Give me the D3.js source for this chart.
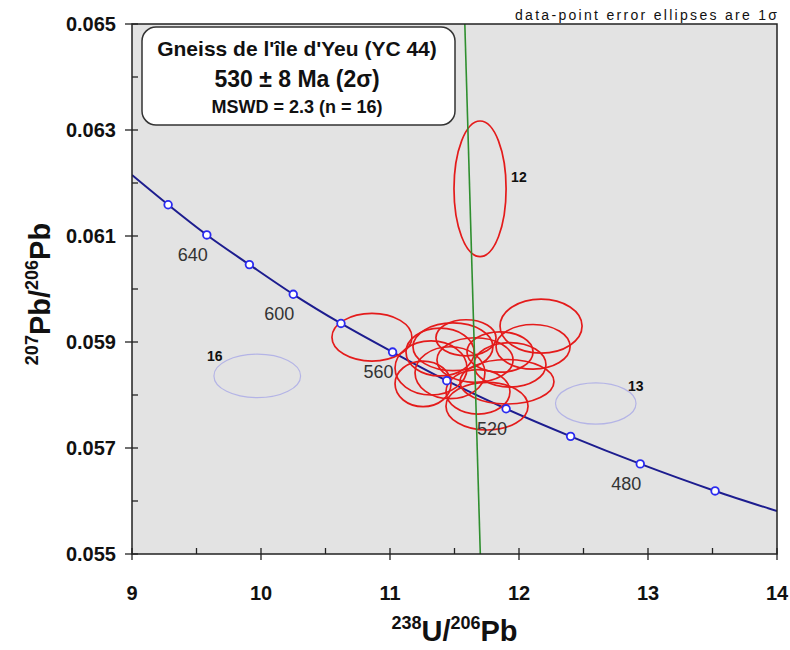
<!DOCTYPE html>
<html>
<head>
<meta charset="utf-8">
<style>
  body { margin: 0; background: #fff; }
  svg { display: block; font-family: "Liberation Sans", Arial, sans-serif; }
</style>
</head>
<body>
<svg id="chart" width="790" height="650" viewBox="0 0 790 650" xmlns="http://www.w3.org/2000/svg"></svg>
<script src="https://d3js.org/d3.v7.min.js"></script>
<script>

// axis ticks
const xTicks = [9, 10, 11, 12, 13, 14];
const xMinor = [9.5, 10.5, 11.5, 12.5, 13.5];
const yTicks = [0.055, 0.057, 0.059, 0.061, 0.063, 0.065];
const yMinor = [0.056, 0.058, 0.060, 0.062, 0.064];

// concordia curve, points
const curveX = [9.00, 9.28, 9.58, 9.91, 10.25, 10.62, 11.02, 11.44, 11.90, 12.40, 12.94, 13.52, 14.00];
const curveY = [0.06215, 0.06159, 0.06102, 0.06046, 0.05990, 0.05935, 0.05881, 0.05827, 0.05774, 0.05722, 0.05670, 0.05619, 0.05581];
const curveAges = [null, 660, 640, 620, 600, 580, 560, 540, 520, 500, 480, 460, null];
const labelledAges = [640, 600, 560, 520, 480];

// regression line (green)
const discordiaX = [11.58, 11.70];
const discordiaY = [0.065, 0.055];

// data-point ellipses (1 sigma), red = used in the age
const redX  = [10.860, 11.488, 11.388, 11.318, 11.256, 11.465, 11.752, 11.907, 11.853, 12.109, 12.171, 11.659, 11.682, 11.589, 11.930, 11.698];
const redY  = [0.05909, 0.05891, 0.05881, 0.05851, 0.05821, 0.05842, 0.05779, 0.05825, 0.05881, 0.05891, 0.05930, 0.05866, 0.05806, 0.05908, 0.05857, 0.06189];
const redSx = [0.310, 0.310, 0.264, 0.279, 0.217, 0.271, 0.318, 0.364, 0.256, 0.287, 0.318, 0.295, 0.248, 0.233, 0.279, 0.202];
const redSy = [0.00045, 0.00045, 0.00045, 0.00051, 0.00043, 0.00049, 0.00045, 0.00042, 0.00038, 0.00042, 0.00051, 0.00042, 0.00042, 0.00034, 0.00042, 0.00128];
const redNames = ["", "", "", "", "", "", "", "", "", "", "", "", "", "", "", "12"];

// rejected points (blue)
const blueX  = [9.971, 12.595];
const blueY  = [0.05836, 0.05784];
const blueSx = [0.336, 0.312];
const blueSy = [0.00041, 0.00039];
const blueNames = ["16", "13"];

const titleLines = ["Gneiss de l'île d'Yeu (YC 44)", "530 ± 8 Ma (2σ)", "MSWD = 2.3 (n = 16)"];

const plot = { left: 132, right: 777, top: 24, bottom: 554 };

const x = d3.scaleLinear().domain([9, 14]).range([plot.left, plot.right]);
const y = d3.scaleLinear().domain([0.055, 0.065]).range([plot.bottom, plot.top]);

const svg = d3.select("#chart");

svg.append("defs").append("clipPath")
  .attr("id", "plotclip")
  .append("rect")
  .attr("x", plot.left)
  .attr("y", plot.top)
  .attr("width", plot.right - plot.left)
  .attr("height", plot.bottom - plot.top);

// plot background
svg.append("rect")
  .attr("x", plot.left)
  .attr("y", plot.top)
  .attr("width", plot.right - plot.left)
  .attr("height", plot.bottom - plot.top)
  .attr("fill", "#e3e3e3");

const g = svg.append("g").attr("clip-path", "url(#plotclip)");

// concordia
const pts = curveX.map((v, i) => [v, curveY[i]]);
g.append("path")
  .attr("d", d3.line().x(d => x(d[0])).y(d => y(d[1])).curve(d3.curveMonotoneX)(pts))
  .attr("fill", "none")
  .attr("stroke", "#1d1d8f")
  .attr("stroke-width", 2);

// ellipses
const drawEllipse = (cx, cy, sx, sy, color, width) => {
  g.append("ellipse")
    .attr("cx", x(cx))
    .attr("cy", y(cy))
    .attr("rx", x(cx + sx) - x(cx))
    .attr("ry", y(cy) - y(cy + sy))
    .attr("fill", "none")
    .attr("stroke", color)
    .attr("stroke-width", width);
};
blueX.forEach((v, i) => drawEllipse(v, blueY[i], blueSx[i], blueSy[i], "#b4b4e6", 1.2));
redX.forEach((v, i) => drawEllipse(v, redY[i], redSx[i], redSy[i], "#e41b1b", 1.7));

// green regression line
g.append("line")
  .attr("x1", x(discordiaX[0]))
  .attr("y1", y(discordiaY[0]))
  .attr("x2", x(discordiaX[1]))
  .attr("y2", y(discordiaY[1]))
  .attr("stroke", "#2f8f2f")
  .attr("stroke-width", 1.6);

// age markers and labels
curveAges.forEach((age, i) => {
  if (age === null) return;
  const px = x(curveX[i]), py = y(curveY[i]);
  g.append("circle")
    .attr("cx", px)
    .attr("cy", py)
    .attr("r", 3.8)
    .attr("fill", "#fff")
    .attr("stroke", "#2b2bf0")
    .attr("stroke-width", 1.8);
  if (labelledAges.includes(age)) {
    svg.append("text")
      .attr("x", px - 14)
      .attr("y", py + 26)
      .attr("text-anchor", "middle")
      .attr("font-size", "18px")
      .attr("fill", "#333")
      .text(age);
  }
});

// ellipse numbers
const labelAt = (cx, cy, sx, sy, name, side) => {
  if (!name) return;
  const left = x(cx - sx), right = x(cx + sx), top = y(cy + sy), mid = y(cy);
  let tx, ty;
  if (side === "right") { tx = right + 5; ty = mid - 7; }
  else if (side === "topleft") { tx = left - 7; ty = top + 7; }
  else { tx = right - 8; ty = top + 8; }
  svg.append("text")
    .attr("x", tx)
    .attr("y", ty)
    .attr("font-size", "14px")
    .attr("font-weight", "bold")
    .attr("fill", "#111")
    .text(name);
};
redX.forEach((v, i) => labelAt(v, redY[i], redSx[i], redSy[i], redNames[i], "right"));
labelAt(blueX[0], blueY[0], blueSx[0], blueSy[0], blueNames[0], "topleft");
labelAt(blueX[1], blueY[1], blueSx[1], blueSy[1], blueNames[1], "topright");

// frame
svg.append("rect")
  .attr("x", plot.left)
  .attr("y", plot.top)
  .attr("width", plot.right - plot.left)
  .attr("height", plot.bottom - plot.top)
  .attr("fill", "none")
  .attr("stroke", "#222")
  .attr("stroke-width", 1.5);

// x ticks
xTicks.forEach(v => {
  svg.append("line")
    .attr("x1", x(v)).attr("x2", x(v))
    .attr("y1", plot.bottom - 6).attr("y2", plot.bottom + 6)
    .attr("stroke", "#222").attr("stroke-width", 1.3);
  svg.append("text")
    .attr("x", x(v))
    .attr("y", plot.bottom + 46)
    .attr("text-anchor", "middle")
    .attr("font-size", "20px")
    .attr("font-weight", "bold")
    .attr("fill", "#111")
    .text(v);
});
xMinor.forEach(v => {
  svg.append("line")
    .attr("x1", x(v)).attr("x2", x(v))
    .attr("y1", plot.bottom - 6).attr("y2", plot.bottom)
    .attr("stroke", "#222").attr("stroke-width", 1.3);
});

// y ticks
yTicks.forEach(v => {
  svg.append("line")
    .attr("x1", plot.left - 7).attr("x2", plot.left + 6)
    .attr("y1", y(v)).attr("y2", y(v))
    .attr("stroke", "#222").attr("stroke-width", 1.3);
  svg.append("text")
    .attr("x", plot.left - 16)
    .attr("y", y(v) + 7)
    .attr("text-anchor", "end")
    .attr("font-size", "20px")
    .attr("font-weight", "bold")
    .attr("fill", "#111")
    .text(v.toFixed(3));
});
yMinor.forEach(v => {
  svg.append("line")
    .attr("x1", plot.left).attr("x2", plot.left + 6)
    .attr("y1", y(v)).attr("y2", y(v))
    .attr("stroke", "#222").attr("stroke-width", 1.3);
});

// axis titles
const xTitle = svg.append("text")
  .attr("x", (plot.left + plot.right) / 2)
  .attr("y", 641)
  .attr("text-anchor", "middle")
  .attr("font-size", "29px")
  .attr("font-weight", "bold")
  .attr("fill", "#111");
xTitle.append("tspan").attr("font-size", "18px").attr("dy", -12).text("238");
xTitle.append("tspan").attr("dy", 12).text("U/");
xTitle.append("tspan").attr("font-size", "18px").attr("dy", -12).text("206");
xTitle.append("tspan").attr("dy", 12).text("Pb");

const yTitle = svg.append("text")
  .attr("transform", `translate(50,${(plot.top + plot.bottom) / 2 + 5}) rotate(-90)`)
  .attr("text-anchor", "middle")
  .attr("font-size", "29px")
  .attr("font-weight", "bold")
  .attr("fill", "#111");
yTitle.append("tspan").attr("font-size", "18px").attr("dy", -12).text("207");
yTitle.append("tspan").attr("dy", 12).text("Pb/");
yTitle.append("tspan").attr("font-size", "18px").attr("dy", -12).text("206");
yTitle.append("tspan").attr("dy", 12).text("Pb");

// note top right
svg.append("text")
  .attr("x", plot.right)
  .attr("y", 20)
  .attr("text-anchor", "end")
  .attr("font-size", "14px")
  .attr("fill", "#111")
  .attr("textLength", 262)
  .attr("lengthAdjust", "spacing")
  .text("data-point error ellipses are 1σ");

// title box
svg.append("rect")
  .attr("x", 142)
  .attr("y", 27)
  .attr("width", 313)
  .attr("height", 98)
  .attr("rx", 14)
  .attr("fill", "#fff")
  .attr("stroke", "#333")
  .attr("stroke-width", 1.5);

const titleSizes = [21, 23, 18];
const titleBase = [56, 87, 113];
titleLines.forEach((t, i) => {
  svg.append("text")
    .attr("x", 297)
    .attr("y", titleBase[i])
    .attr("text-anchor", "middle")
    .attr("font-size", titleSizes[i] + "px")
    .attr("font-weight", "bold")
    .attr("fill", "#111")
    .text(t);
});
</script>
</body>
</html>
